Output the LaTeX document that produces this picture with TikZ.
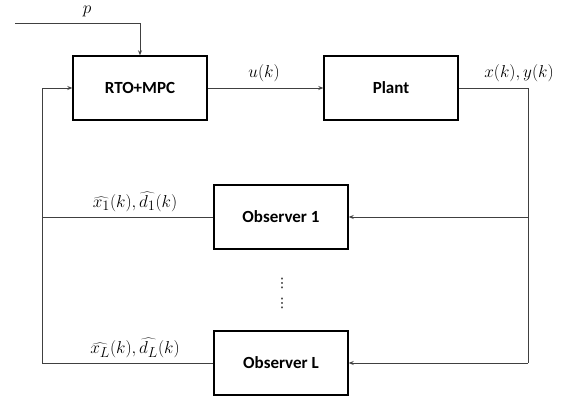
\documentclass[tikz,border=0pt]{standalone}
\usepackage{fontspec}
\setmainfont{Carlito}
\newfontfamily\symfont{DejaVu Sans}
\usetikzlibrary{arrows.meta}
\begin{document}
\begin{tikzpicture}[x=1pt,y=-1pt,
  block/.style={draw=black, line width=1.4pt, minimum width=134pt, minimum height=64pt,
    inner sep=0pt, font=\fontsize{17}{19}\selectfont\bfseries},
  wire/.style={draw=black!75, line width=0.9pt},
  arr/.style={wire, -{Stealth[length=5pt,width=4pt]}},
  lbl/.style={inner sep=0pt, font=\fontsize{19}{21}\selectfont},
  vdot/.style={inner sep=0pt, font=\symfont\fontsize{13}{14}\selectfont}]
\useasboundingbox (0,0) rectangle (574,403);
% blocks
\node[block] (ctrl)  at (140,88)  {RTO+MPC};
\node[block] (plant) at (391,88)  {Plant};
\node[block] (obs1)  at (281,217) {Observer 1};
\node[block] (obsL)  at (281,363) {Observer L};
% routing points
\coordinate (pin) at (15,23);
\coordinate (rx)  at (528,0);
\coordinate (lx)  at (42,0);
\coordinate (r1) at (obs1.east -| rx);
\coordinate (rL) at (obsL.east -| rx);
\coordinate (l1) at (obs1.west -| lx);
\coordinate (lL) at (obsL.west -| lx);
% connectors
\draw[arr] (pin) -| (ctrl.north);
\draw[arr] (ctrl.east) -- (plant.west);
\draw[wire] (plant.east) -| (rL);
\draw[arr] (r1) -- (obs1.east);
\draw[arr] (rL) -- (obsL.east);
\draw[wire] (obs1.west) -- (l1);
\draw[arr] (obsL.west) -- (lL) |- (ctrl.west);
% labels
\node[lbl] (lp) at (87,11) {$p$};
\node[lbl] (lu) at (264,73) {$u(k)$};
\node[lbl] (lxy) at (519,73) {$x(k),y(k)$};
\node[lbl] (lh1) at (135,202) {$\widehat{x_1}(k),\widehat{d_1}(k)$};
\node[lbl] (lhL) at (135,348) {$\widehat{x_L}(k),\widehat{d_L}(k)$};
% ellipsis between observers
\node[vdot] (dots1) at (282,283) {⋮};
\node[vdot] (dots2) at (282,303) {⋮};
\end{tikzpicture}
\end{document}
